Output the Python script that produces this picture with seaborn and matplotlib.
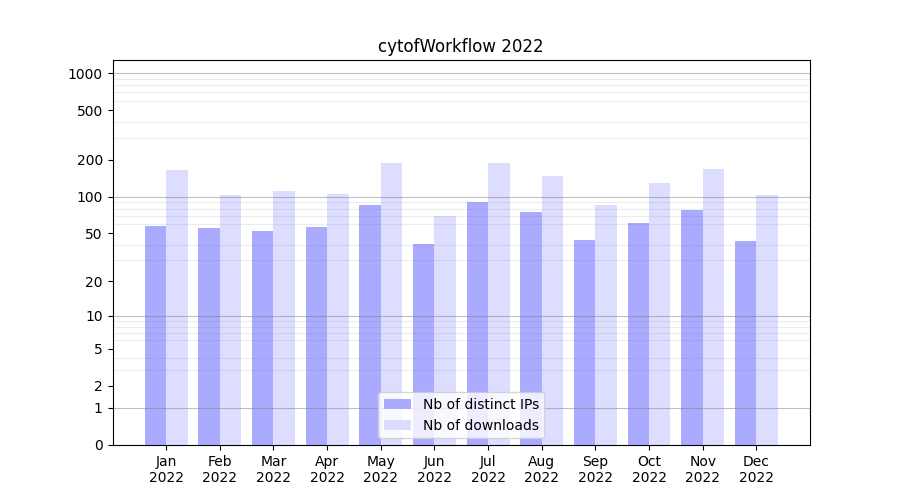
import numpy as np
import pandas as pd
import matplotlib
matplotlib.use('Agg')
import matplotlib.pyplot as plt
import seaborn as sns

# monthly counts
months = ['Jan', 'Feb', 'Mar', 'Apr', 'May', 'Jun',
          'Jul', 'Aug', 'Sep', 'Oct', 'Nov', 'Dec']
year = 2022
distinct_ips = [58, 55, 52, 56, 85, 41, 90, 75, 44, 61, 78, 43]
downloads = [165, 103, 111, 105, 188, 70, 188, 147, 85, 129, 168, 103]

ytick_values = [0, 1, 2, 5, 10, 20, 50, 100, 200, 500, 1000]

labels = ['%s\n%d' % (m, year) for m in months]
df = pd.DataFrame({
    'month': labels * 2,
    'count': distinct_ips + downloads,
    'series': ['Nb of distinct IPs'] * 12 + ['Nb of downloads'] * 12,
})

palette = {'Nb of distinct IPs': '#aaaaff', 'Nb of downloads': '#ddddff'}

fig, ax = plt.subplots(figsize=(9, 5), dpi=100)
sns.barplot(data=df, x='month', y='count', hue='series', palette=palette,
            saturation=1, errorbar=None, linewidth=0, ax=ax)

# log10(1 + x) scale so that zero stays on the axis
def fwd(x):
    return np.log10(np.clip(x, 0, None) + 1)

def inv(y):
    return 10 ** y - 1

ax.set_yscale('function', functions=(fwd, inv))
ax.set_ylim(0, 1278)
ax.set_xlim(-1, 12)
ax.set_yticks(ytick_values)
ax.set_yticklabels([str(v) for v in ytick_values])

minor = [m * 10 ** k for k in range(0, 3) for m in range(2, 10)]
ax.set_yticks(minor, minor=True)
ax.tick_params(axis='y', which='minor', length=0)
ax.grid(False)
ax.grid(axis='y', which='minor', color='gray', alpha=0.15)
for v in [1, 10, 100, 1000]:
    ax.axhline(v, color='gray', alpha=0.5, linewidth=0.8)

ax.set_xlabel('')
ax.set_ylabel('')
ax.set_title('cytofWorkflow %d' % year)
sns.move_legend(ax, 'lower center', title=None)

plt.savefig('out.png')
plt.close()
